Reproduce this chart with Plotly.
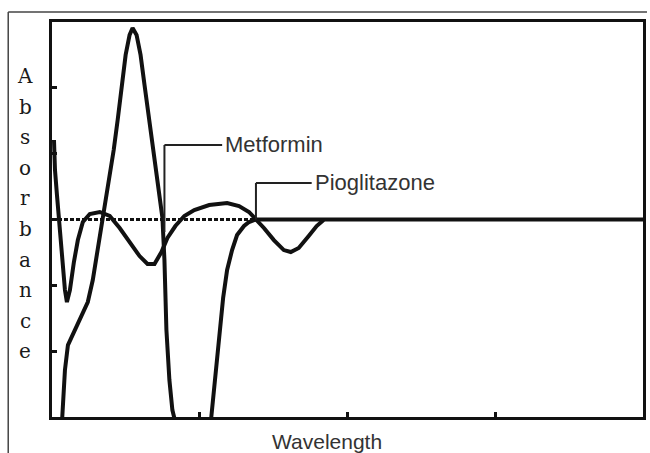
import plotly.graph_objects as go

# ---- data (wavelength in nm, absorbance in arbitrary units) ----
metformin_wl = [203.03, 203.37, 203.70, 204.38, 205.39, 207.74, 210.10, 212.12, 213.80, 215.15,
                216.50, 217.85, 219.53, 220.88, 222.22, 223.57, 224.92, 226.26, 227.27, 228.62,
                229.97, 231.31, 232.66, 234.01, 235.69, 237.37, 238.05, 238.72, 239.73, 240.74,
                241.41, 242.42, 246.46, 251.52, 253.87, 254.88, 255.89, 256.90, 257.91, 259.26,
                260.94, 262.63, 264.98, 266.67, 269.02, 400.0]
metformin_abs = [-3.351, -3.017, -2.667, -2.287, -1.907, -1.679, -1.451, -1.254, -0.919, -0.540,
                 -0.160, 0.144, 0.600, 1.056, 1.512, 2.044, 2.500, 2.804, 2.910, 2.804,
                 2.500, 2.044, 1.588, 1.056, 0.524, 0.023, -0.616, -1.679, -2.439, -2.895,
                 -3.017, -3.427, -3.959, -3.655, -3.017, -2.591, -2.090, -1.603, -1.193, -0.767,
                 -0.464, -0.236, -0.099, -0.038, 0.0, 0.0]

pioglitazone_wl = [200.67, 201.01, 201.68, 202.36, 203.03, 203.70, 204.38, 205.05, 206.06, 207.41,
                   208.75, 210.44, 212.79, 216.16, 219.53, 222.90, 226.26, 229.63, 232.32, 234.68,
                   237.04, 239.06, 241.75, 244.78, 248.15, 253.20, 259.26, 263.30, 266.67, 269.02,
                   271.72, 275.08, 278.45, 280.81, 283.50, 286.87, 289.56, 291.92]
pioglitazone_abs = [1.208, 0.752, 0.372, 0.023, -0.388, -0.767, -1.071, -1.254, -1.071, -0.646,
                    -0.312, -0.038, 0.084, 0.114, 0.053, -0.129, -0.342, -0.555, -0.676, -0.676,
                    -0.494, -0.281, -0.099, 0.053, 0.144, 0.220, 0.251, 0.205, 0.114, 0.008,
                    -0.129, -0.312, -0.464, -0.494, -0.433, -0.251, -0.099, -0.008]

x_range = [200, 400]
y_range = [-3, 3]

# label leaders: (name, leader x, leader y bottom, elbow y, text x)
labels = [
    ("Metformin", 238.05, -0.19, 1.132, 257.58),
    ("Pioglitazone", 269.02, 0.0, 0.555, 287.88),
]

ink = "#111111"

fig = go.Figure()
fig.add_trace(go.Scatter(x=pioglitazone_wl, y=pioglitazone_abs, mode="lines",
                         name="Pioglitazone", line=dict(color=ink, width=4)))
fig.add_trace(go.Scatter(x=metformin_wl, y=metformin_abs, mode="lines",
                         name="Metformin", line=dict(color=ink, width=4)))

shapes = []
# dotted baseline
shapes.append(dict(type="line", xref="x", yref="y", x0=x_range[0], x1=x_range[1], y0=0, y1=0,
                   line=dict(color=ink, width=3, dash="4px,2px"), layer="below"))
annotations = []
for name, lx, ly0, ly1, tx in labels:
    shapes.append(dict(type="line", xref="x", yref="y", x0=lx, x1=lx, y0=ly0, y1=ly1,
                       line=dict(color="#222", width=2)))
    shapes.append(dict(type="line", xref="x", yref="y", x0=lx, x1=tx, y0=ly1, y1=ly1,
                       line=dict(color="#222", width=2)))
    annotations.append(dict(x=tx, y=ly1, xref="x", yref="y", text=name, showarrow=False,
                            xanchor="left", yanchor="middle", xshift=1,
                            font=dict(family="Liberation Sans, Arial", size=22, color="#333")))

# thin outer border (top & left)
W, H = 650, 453
ml, mr, mt, mb = 52, 4, 22, 36
pw, ph = W - ml - mr, H - mt - mb
def px(x):
    return (x - ml) / pw
def py(y):
    return (H - mb - y) / ph
shapes.append(dict(type="line", xref="paper", yref="paper", x0=px(8), x1=px(650), y0=py(12), y1=py(12),
                   line=dict(color="#444", width=1.5)))
shapes.append(dict(type="line", xref="paper", yref="paper", x0=px(8), x1=px(8), y0=py(12), y1=py(453),
                   line=dict(color="#444", width=1.5)))

# vertical y-axis title, one letter per line
for i, ch in enumerate("Absorbance"):
    annotations.append(dict(x=px(25), y=py(76 + 30.6 * i), xref="paper", yref="paper",
                            text=ch,
                            showarrow=False, xanchor="center", yanchor="middle",
                            font=dict(family="DejaVu Serif", size=20, color="#1a1a1a")))

annotations.append(dict(x=px(328), y=py(441), xref="paper", yref="paper", text="Wavelength",
                        showarrow=False, xanchor="center", yanchor="middle",
                        font=dict(family="Liberation Sans, Arial", size=21, color="#333")))

fig.update_layout(
    width=W, height=H, autosize=False,
    margin=dict(l=ml, r=mr, t=mt, b=mb),
    paper_bgcolor="white", plot_bgcolor="white",
    showlegend=False,
    shapes=shapes, annotations=annotations,
    xaxis=dict(range=x_range, dtick=50, showgrid=False, zeroline=False, showline=True, mirror=True,
               linecolor=ink, linewidth=3, ticks="inside", ticklen=5, tickwidth=3, tickcolor=ink,
               showticklabels=False),
    yaxis=dict(range=y_range, dtick=1, showgrid=False, zeroline=False, showline=True, mirror=True,
               linecolor=ink, linewidth=3, ticks="inside", ticklen=5, tickwidth=3, tickcolor=ink,
               showticklabels=False),
)

fig.write_html("out.html", config={"displayModeBar": False},
               post_script="document.body.style.margin='0';document.body.style.padding='0';")
